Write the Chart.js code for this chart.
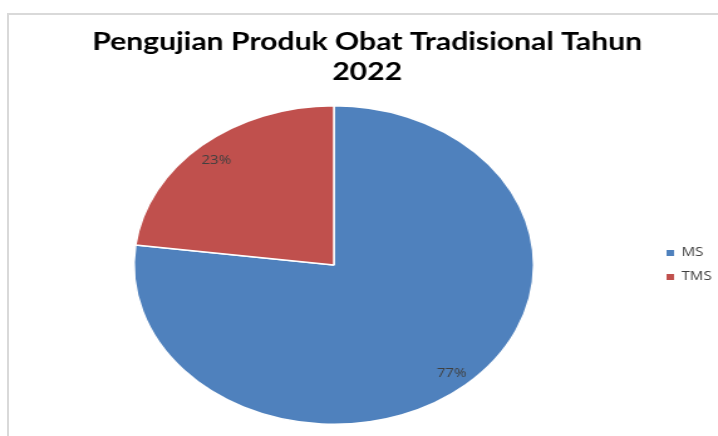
<!DOCTYPE html>
<html>
<head>
<meta charset="utf-8">
<script src="https://cdn.jsdelivr.net/npm/chart.js@4.4.1/dist/chart.umd.min.js"></script>
<style>
  html, body { margin: 0; padding: 0; background: #fff; }
  #wrap { position: relative; width: 718px; height: 436px; overflow: hidden; }
  /* the picture is a horizontally stretched copy of the chart, so stretch the whole canvas */
  #stretch { position: absolute; left: 0; top: 0; width: 572px; height: 436px;
             transform: scaleX(1.2552); transform-origin: 0 0; }
  #frame { position: absolute; left: 7px; top: 13px; right: -10px; bottom: -10px;
           border-left: 2px solid #d9d9d9; border-top: 2px solid #d9d9d9; pointer-events: none; }
</style>
</head>
<body>
<div id="wrap">
  <div id="stretch"><canvas id="pieChart"></canvas></div>
  <div id="frame"></div>
</div>
<script>
// ========= Data =========
const categories = ['MS', 'TMS'];
const shares = [77, 23];
const sliceColors = ['#4f81bd', '#c0504d'];
const titleLines = ['Pengujian Produk Obat Tradisional Tahun', '2022'];

const legendWidth = 53;

// ========= Percent labels + fixed legend width =========
const pieLabels = {
  id: 'pieLabels',
  beforeLayout(chart) {
    const lg = chart.legend;
    if (lg && !lg._fixedWidth) {
      const fit = lg.fit;
      lg.fit = function () { fit.call(this); this.width = legendWidth; };
      lg._fixedWidth = true;
    }
  },
  afterDatasetsDraw(chart) {
    const ctx = chart.ctx;
    const total = shares.reduce((a, b) => a + b, 0);
    ctx.save();
    ctx.font = '12px "Open Sans", sans-serif';
    ctx.fillStyle = '#404040';
    ctx.textAlign = 'center';
    ctx.textBaseline = 'middle';
    chart.getDatasetMeta(0).data.forEach((arc, i) => {
      const mid = (arc.startAngle + arc.endAngle) / 2;
      const r = arc.outerRadius * 0.89;
      ctx.fillText(Math.round(shares[i] / total * 100) + '%',
        arc.x + Math.cos(mid) * r, arc.y + Math.sin(mid) * r + 2);
    });
    ctx.restore();
  }
};

const ctx = document.getElementById('pieChart').getContext('2d');
new Chart(ctx, {
  type: 'pie',
  data: {
    labels: categories,
    datasets: [{
      data: shares,
      backgroundColor: sliceColors,
      borderColor: '#ffffff',
      borderWidth: 1.5
    }]
  },
  options: {
    responsive: true,
    maintainAspectRatio: false,
    animation: false,
    layout: { padding: { left: 13, right: 0, top: 0, bottom: 11 } },
    plugins: {
      title: {
        display: true,
        text: titleLines,
        color: '#000000',
        font: { family: 'Lato', size: 24, weight: 'bold', lineHeight: 1.25 },
        padding: { top: 27.5, bottom: 17.5 }
      },
      legend: {
        position: 'right',
        fullSize: false,
        labels: {
          boxWidth: 6,
          boxHeight: 6,
          padding: 12,
          color: '#404040',
          font: { family: '"Open Sans"', size: 12 },
          generateLabels(chart) {
            const items = Chart.overrides.pie.plugins.legend.labels.generateLabels(chart);
            items.forEach(it => { it.lineWidth = 0; });
            return items;
          }
        }
      },
      tooltip: { enabled: false }
    }
  },
  plugins: [pieLabels]
});
</script>
</body>
</html>
